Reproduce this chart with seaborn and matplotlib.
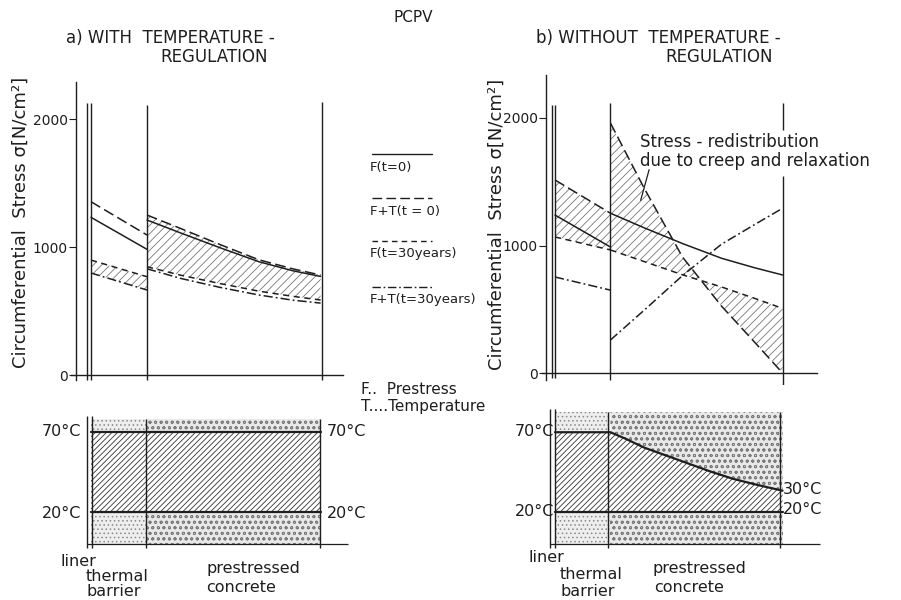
import numpy as np
import pandas as pd
import seaborn as sns
import matplotlib.pyplot as plt

sns.set_theme(style='white')
plt.rcParams['font.family'] = ['DejaVu Sans']
plt.rcParams['hatch.linewidth'] = 0.6

W, H = 901, 600
INK = '#1e1e1e'

# radial position: 0 = liner, 1 = end of thermal barrier, 4.1 = outer concrete face
liner_u = [0, 1]
conc_u = [1, 1.6, 2.3, 3.0, 3.6, 4.1]
stress_ticks = [0, 1000, 2000]

# a) with temperature regulation  [N/cm2]
a_liner_F0 = [1232, 982]
a_liner_FT0 = [1354, 1094]
a_liner_F30 = [898, 768]
a_liner_FT30 = [797, 664]
a_conc_F0 = [1211, 1110, 995, 885, 815, 770]
a_conc_FT0 = [1250, 1145, 1020, 900, 830, 781]
a_conc_F30 = [846, 780, 715, 655, 615, 586]
a_conc_FT30 = [830, 755, 685, 625, 585, 562]

# b) without temperature regulation
b_liner_F0 = [1239, 988]
b_liner_FT0 = [1514, 1253]
b_liner_F30 = [1067, 965]
b_liner_FT30 = [753, 650]
b_conc_F0 = [1253, 1140, 1015, 900, 825, 769]
b_conc_FT0 = [1960, 1455, 908, 525, 240, 0]
b_conc_F30 = [965, 875, 770, 675, 585, 507]
b_conc_FT30 = [259, 490, 765, 1010, 1165, 1292]

# temperature profiles [°C]
a_temp_u = [0, 1, 4.1]
a_temp_in = [70, 70, 70]
b_temp_u = [0, 1, 1.3, 1.6, 2.0, 2.4, 2.8, 3.2, 3.6, 4.1]
b_temp_in = [70, 70, 65.5, 60.5, 55.5, 50.5, 45.5, 41, 37.5, 33.5]
temp_out = 20

styles = {'F0': '-', 'FT0': (0, (7, 3)), 'F30': (0, (4, 3)), 'FT30': (0, (6, 2, 1.2, 2))}
legend_labels = {'F0': 'F(t=0)', 'FT0': 'F+T(t = 0)', 'F30': 'F(t=30years)', 'FT30': 'F+T(t=30years)'}


def box(x0, y0, x1, y1):
    return [x0 / W, 1 - y1 / H, (x1 - x0) / W, (y1 - y0) / H]


def ftext(x, y, s, **kw):
    kw.setdefault('color', INK)
    kw.setdefault('va', 'center')
    fig.text(x / W, 1 - y / H, s, **kw)


def line(ax, u, v, key, lw=1.1):
    sns.lineplot(x=u, y=v, ax=ax, color=INK, linewidth=lw, linestyle=styles[key],
                 sort=False, errorbar=None, legend=False)


def stress_panel(ax, xlim, ylim, axis_u, axis_top, base_right, liner, conc, hatch_liner, hatch_conc):
    for key in ['F0', 'FT0', 'F30', 'FT30']:
        line(ax, liner_u, liner[key], key)
        line(ax, conc_u, conc[key], key)
    ax.fill_between(liner_u, liner[hatch_liner[0]], liner[hatch_liner[1]],
                    facecolor='none', edgecolor='#777', hatch='////', lw=0)
    ax.fill_between(conc_u, conc[hatch_conc[0]], conc[hatch_conc[1]],
                    facecolor='none', edgecolor='#777', hatch='////', lw=0)
    ax.set_xlim(*xlim)
    ax.set_ylim(*ylim)
    ax.set_facecolor('none')
    ax.spines[['top', 'right']].set_visible(False)
    ax.spines['left'].set_position(('data', axis_u))
    ax.spines['left'].set_bounds(ylim[0] + 40, axis_top)
    ax.spines['bottom'].set_position(('data', 0))
    ax.spines['bottom'].set_bounds(axis_u - 0.08, base_right)
    for sp in ['left', 'bottom']:
        ax.spines[sp].set_color(INK)
        ax.spines[sp].set_linewidth(1.0)
    ax.set_xticks([])
    ax.set_yticks(stress_ticks)
    ax.set_yticklabels([str(t) for t in stress_ticks])
    ax.tick_params(axis='y', left=True, length=5, width=0.8, direction='out',
                   labelsize=10, pad=1, colors=INK)


fig = plt.figure(figsize=(W / 100, H / 100), dpi=100)
fig.patch.set_facecolor('white')

# ---------------- stress diagrams ----------------
axA = fig.add_axes(box(60, 80, 350, 385))
stress_panel(axA, (-0.5536, 4.625), (-78, 2305), -0.27, 2289, 4.5,
             {'F0': a_liner_F0, 'FT0': a_liner_FT0, 'F30': a_liner_F30, 'FT30': a_liner_FT30},
             {'F0': a_conc_F0, 'FT0': a_conc_FT0, 'F30': a_conc_F30, 'FT30': a_conc_FT30},
             ('F30', 'FT30'), ('FT0', 'F30'))
axA.vlines([-0.08, 0], -39, 2125, color=INK, lw=1.0)
axA.vlines(1.0, -39, 2109, color=INK, lw=1.0)
axA.vlines(4.12, -39, 2133, color=INK, lw=1.0)

axB = fig.add_axes(box(530, 80, 830, 385))
stress_panel(axB, (-0.45, 4.955), (-94, 2298), -0.16, 2337, 4.72,
             {'F0': b_liner_F0, 'FT0': b_liner_FT0, 'F30': b_liner_F30, 'FT30': b_liner_FT30},
             {'F0': b_conc_F0, 'FT0': b_conc_FT0, 'F30': b_conc_F30, 'FT30': b_conc_FT30},
             ('FT0', 'F30'), ('FT0', 'F30'))
axB.vlines([-0.06, 0], -39, 2102, color=INK, lw=1.0)
axB.vlines(0.99, -55, 2118, color=INK, lw=1.0)
axB.vlines(4.1, 1906, 2118, color=INK, lw=1.0)
axB.vlines(4.1, -188, 1545, color=INK, lw=1.0)
axB.annotate('', xy=(1.53, 1333), xytext=(1.71, 1616),
             arrowprops=dict(arrowstyle='-', color=INK, lw=0.9))

# ---------------- temperature diagrams ----------------
def temp_panel(ax, xlim, u, t_in, top, liner_x, barrier_x, outer_x, base_right):
    u = np.asarray(u, float)
    t_in = np.asarray(t_in, float)
    t_lo = np.full_like(u, temp_out)
    bar = u <= 1
    con = u >= 1
    for m, hatch, ec, fc in [(bar, '....', '#8a8a8a', '#eeeeee'), (con, 'ooo', '#7a7a7a', '#e8e8e8')]:
        ax.fill_between(u[m], t_in[m], top, facecolor=fc, edgecolor=ec, hatch=hatch, lw=0)
        ax.fill_between(u[m], 0, t_lo[m], facecolor=fc, edgecolor=ec, hatch=hatch, lw=0)
    ax.fill_between(u, t_lo, t_in, facecolor='white', edgecolor='#333', hatch='//////', lw=0)
    sns.lineplot(x=u, y=t_in, ax=ax, color=INK, linewidth=1.6, sort=False, errorbar=None)
    sns.lineplot(x=u, y=t_lo, ax=ax, color=INK, linewidth=1.6, sort=False, errorbar=None)
    ax.vlines(liner_x, -2, top + 2, color=INK, lw=1.0)
    ax.vlines([barrier_x, outer_x], -2, top, color=INK, lw=1.0)
    ax.hlines(0, liner_x[0], base_right, color=INK, lw=0.9)
    ax.set_xlim(*xlim)
    ax.set_ylim(-3.5, 87)
    ax.axis('off')


tA = fig.add_axes(box(60, 405, 350, 550))
temp_panel(tA, (-0.5536, 4.625), a_temp_u, a_temp_in, 78, [-0.07, 0.02], 0.98, 4.09, 4.59)
tB = fig.add_axes(box(530, 405, 830, 550))
temp_panel(tB, (-0.45, 4.955), b_temp_u, b_temp_in, 82.5, [-0.09, 0], 0.95, 4.05, 4.77)

# ---------------- legend (line above label) ----------------
for key, y in zip(['F0', 'FT0', 'F30', 'FT30'], [167, 211, 254, 300]):
    fig.add_artist(plt.Line2D([372 / W, 432 / W], [1 - (y - 13) / H] * 2, color=INK,
                              lw=1.0, linestyle=styles[key], transform=fig.transFigure))
    ftext(370, y, legend_labels[key], fontsize=9.5)

# ---------------- texts ----------------
ftext(413, 18, 'PCPV', fontsize=11, ha='center')
ftext(66, 38, 'a) WITH  TEMPERATURE -', fontsize=12)
ftext(160, 57, 'REGULATION', fontsize=12)
ftext(536, 38, 'b) WITHOUT  TEMPERATURE -', fontsize=12)
ftext(665, 57, 'REGULATION', fontsize=12)

ylab = 'Circumferential  Stress σ[N/cm²]'
ftext(21, 222, ylab, fontsize=13, rotation=90, ha='center')
ftext(497, 224, ylab, fontsize=13, rotation=90, ha='center')

ftext(640, 142, 'Stress - redistribution', fontsize=12)
ftext(640, 161, 'due to creep and relaxation', fontsize=12)

ftext(361, 390, 'F..  Prestress', fontsize=11)
ftext(361, 407, 'T....Temperature', fontsize=11)

for x, y, s in [(42, 432, '70°C'), (327, 432, '70°C'), (42, 514, '20°C'), (327, 514, '20°C'),
                (515, 432, '70°C'), (515, 512, '20°C'), (783, 489, '30°C'), (783, 510, '20°C')]:
    ftext(x, y, s, fontsize=11.5)

for x, y, s in [(60, 566, 'liner'), (86, 581, 'thermal'), (86, 596, 'barrier'),
                (206, 573, 'prestressed'), (206, 592, 'concrete'),
                (528, 562, 'liner'), (560, 579, 'thermal'), (560, 596, 'barrier'),
                (652, 573, 'prestressed'), (654, 592, 'concrete')]:
    ftext(x, y, s, fontsize=11.5, va='baseline')

fig.savefig('out.png', dpi=100, facecolor='white')
